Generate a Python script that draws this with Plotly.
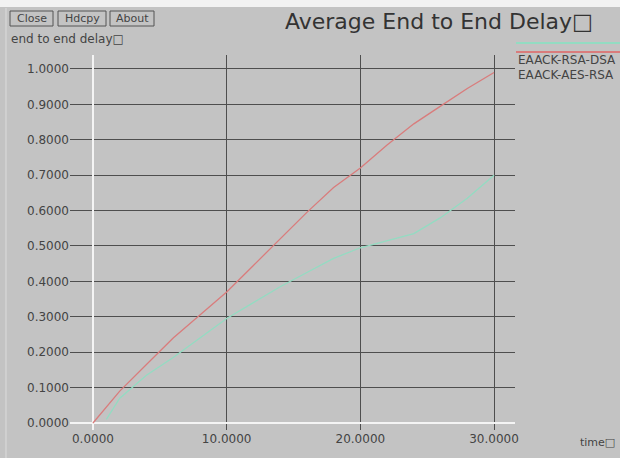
import plotly.graph_objects as go

# Average end-to-end delay over simulation time
time_rsa = [0, 2, 4, 6, 8, 10, 12, 14, 16, 18, 20, 22, 24, 26, 28, 30]
delay_rsa = [0.0, 0.09, 0.165, 0.24, 0.305, 0.37, 0.445, 0.52, 0.595, 0.665,
             0.72, 0.785, 0.845, 0.895, 0.945, 0.99]

time_aes = [1, 2, 4, 6, 8, 10, 12, 14, 16, 18, 20, 22, 24, 26, 28, 30]
delay_aes = [0.01, 0.07, 0.135, 0.185, 0.24, 0.295, 0.34, 0.385, 0.425, 0.465,
             0.495, 0.515, 0.535, 0.58, 0.635, 0.70]

series_names = ["EAACK-RSA-DSA", "EAACK-AES-RSA"]
series_colors = ["#d97c7c", "#93dcc2"]

x_ticks = [0, 10, 20, 30]
y_ticks = [i / 10 for i in range(11)]

W, H = 620, 458
L, R, T, B = 70, 105, 55, 28
BG = "#c3c3c3"
TXT = "#444444"
FONT = "DejaVu Sans"


def px(x):
    return (x - L) / (W - L - R)


def py(y):
    return (H - B - y) / (H - T - B)


fig = go.Figure()
fig.add_trace(go.Scatter(x=time_rsa, y=delay_rsa, mode="lines", name=series_names[0],
                         line=dict(color=series_colors[0], width=1.3)))
fig.add_trace(go.Scatter(x=time_aes, y=delay_aes, mode="lines", name=series_names[1],
                         line=dict(color=series_colors[1], width=1.3)))

axis_common = dict(
    showgrid=True, gridcolor="#4e4e4e", gridwidth=1,
    zeroline=True, zerolinecolor="#f4f4f4", zerolinewidth=1.5,
    showline=False, ticks="", tickfont=dict(family=FONT, size=12, color=TXT),
    tickformat=".4f", fixedrange=True,
)
fig.update_xaxes(range=[-1.72, 31.57], tickvals=x_ticks, **axis_common)
fig.update_yaxes(range=[-0.0198, 1.0395], tickvals=y_ticks, ticklabelstandoff=0, **axis_common)

shapes = []
annotations = []

# top strip of the window
shapes.append(dict(type="rect", xref="paper", yref="paper", x0=px(0), x1=px(W),
                   y0=py(0), y1=py(7), fillcolor="#f2f2f2", line=dict(width=0), layer="below"))
shapes.append(dict(type="line", xref="paper", yref="paper", x0=px(6), x1=px(6),
                   y0=py(8), y1=py(H), line=dict(color="#dcdcdc", width=1)))

# control buttons
for label, x0, x1 in [("Close", 10, 53), ("Hdcpy", 58, 106), ("About", 110, 154)]:
    shapes.append(dict(type="rect", xref="paper", yref="paper", x0=px(x0), x1=px(x1),
                       y0=py(11), y1=py(26), line=dict(color="#555555", width=1),
                       fillcolor=BG))
    annotations.append(dict(text=label, xref="paper", yref="paper", x=px((x0 + x1) / 2),
                            y=py(18.5), showarrow=False, xanchor="center", yanchor="middle",
                            font=dict(family=FONT, size=11, color=TXT)))

annotations.append(dict(text="end to end delay\u25a1", xref="paper", yref="paper",
                        x=px(9), y=py(39), showarrow=False, xanchor="left", yanchor="middle",
                        font=dict(family=FONT, size=12, color=TXT)))

annotations.append(dict(text="Average End to End Delay\u25a1", xref="paper", yref="paper",
                        x=px(283), y=py(21), showarrow=False, xanchor="left", yanchor="middle",
                        font=dict(family=FONT, size=22, color="#333333")))

annotations.append(dict(text="time\u25a1", xref="paper", yref="paper",
                        x=px(617), y=py(442), showarrow=False, xanchor="right", yanchor="middle",
                        font=dict(family=FONT, size=11, color=TXT)))

# legend: sample line drawn above each label
legend_rows = [(52, 60), (43, 75)]
for (line_y, text_y), name, color in zip(legend_rows, series_names, series_colors):
    shapes.append(dict(type="line", xref="paper", yref="paper", x0=px(516), x1=px(W),
                       y0=py(line_y), y1=py(line_y), line=dict(color=color, width=2)))
    annotations.append(dict(text=name, xref="paper", yref="paper", x=px(516), y=py(text_y),
                            showarrow=False, xanchor="left", yanchor="middle",
                            font=dict(family=FONT, size=12, color=TXT)))

fig.update_layout(
    width=W, height=H,
    margin=dict(l=L, r=R, t=T, b=B, pad=0),
    paper_bgcolor=BG, plot_bgcolor=BG,
    showlegend=False,
    shapes=shapes, annotations=annotations,
)

fig.write_html("out.html")
